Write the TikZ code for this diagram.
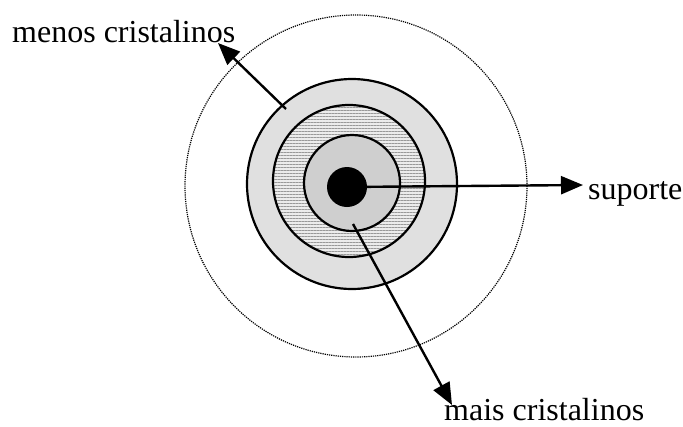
\documentclass[tikz,border=0pt]{standalone}
\usepackage{fontspec}
\setmainfont{Liberation Serif}
\usetikzlibrary{arrows.meta,patterns.meta}

\tikzset{
  ring/.style={circle,draw,line width=2.2pt,inner sep=0pt},
  label/.style={font=\fontsize{32}{38}\selectfont,inner sep=0pt}
}

\begin{document}
\begin{tikzpicture}[x=1pt,y=-1pt,>={Triangle[length=22pt,width=18pt]}]
  \useasboundingbox (0,0) rectangle (683,426);
  % zones around the support
  \node[circle,draw,densely dotted,line width=1.2pt,minimum size=342pt] (halo) at (356,186) {};
  \node[ring,fill=gray!24,minimum size=210pt] (outer) at (352,184) {};
  \node[ring,minimum size=152pt,preaction={fill=gray!15},
        pattern={Lines[angle=0,distance=3pt,line width=1pt]},pattern color=gray!80] (middle) at (349,181) {};
  \node[ring,fill=gray!38,minimum size=96pt] (inner) at (352,183) {};
  \node[circle,fill=black,minimum size=40pt,inner sep=0pt] (core) at (347,187) {};
  % labels
  \node[label,anchor=base west] (menos) at (12,42) {menos cristalinos};
  \node[label,anchor=base west] (suporte) at (588,199) {suporte};
  \node[label,anchor=base west] (mais) at (444,420) {mais cristalinos};
  \coordinate (menostip) at (218,43);
  \coordinate (suportetip) at (583,185);
  \coordinate (maistip) at (452,405);
  \coordinate (menosfoot) at (286,109);
  \coordinate (maisfoot) at (353,224);
  \draw[->,line width=2.4pt] (menosfoot) -- (menostip);
  \draw[->,line width=2.4pt] (core.center) -- (suportetip);
  \draw[->,line width=2.4pt] (maisfoot) -- (maistip);
\end{tikzpicture}
\end{document}
